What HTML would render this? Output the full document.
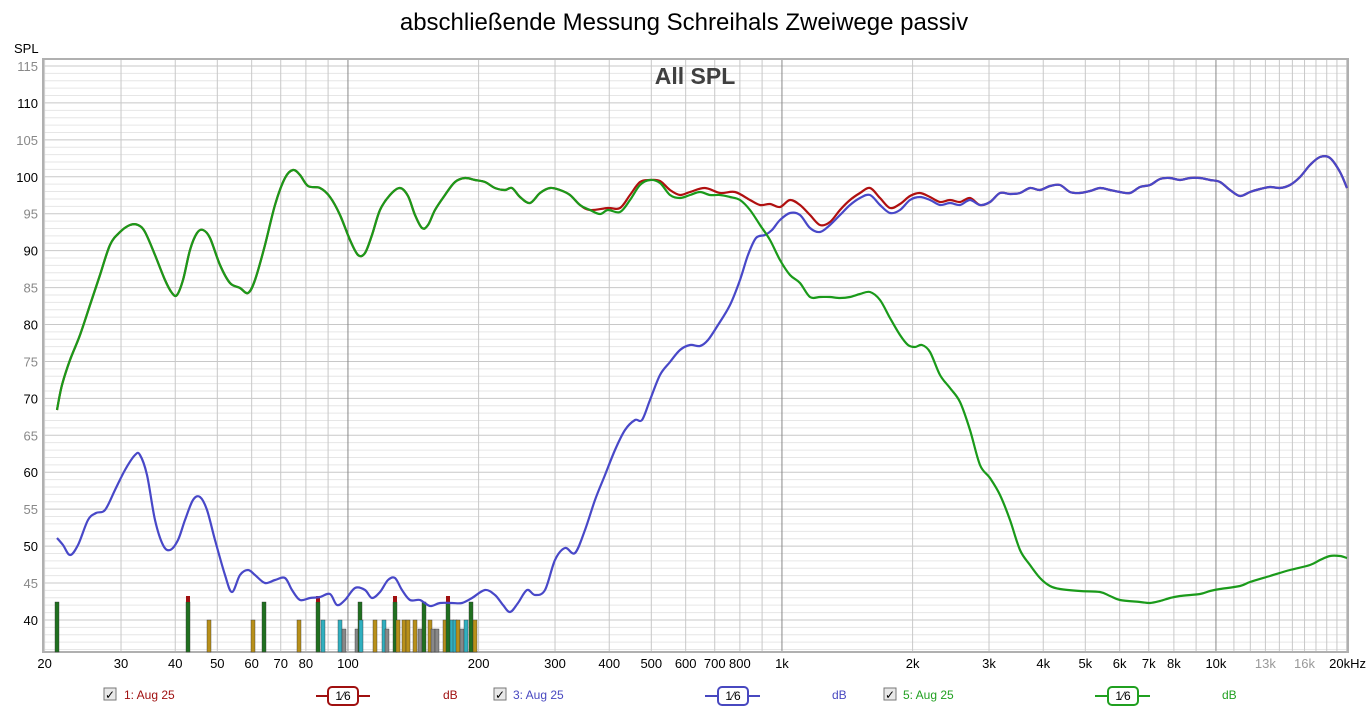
<!DOCTYPE html>
<html><head><meta charset="utf-8"><style>
body{margin:0;background:#fff;width:1369px;height:710px;overflow:hidden;font-family:"Liberation Sans",Arial,sans-serif}
svg text{font-family:"Liberation Sans",Arial,sans-serif}
</style></head><body>
<svg id="s" width="1369" height="710" xmlns="http://www.w3.org/2000/svg">
<text x="684" y="30" font-size="24" text-anchor="middle" fill="#000">abschließende Messung Schreihals Zweiwege passiv</text>
<text x="14" y="53" font-size="13" fill="#000">SPL</text>
<g id="grid"></g>
<rect x="43" y="59" width="1305" height="593" fill="none" stroke="#b0b0b0" stroke-width="2"/>
<text x="695" y="84" font-size="23" font-weight="bold" text-anchor="middle" fill="#404040">All SPL</text>
<g id="bars"></g>
<g id="curves"></g>
<g id="labels"></g>
<g font-size="12">
<rect x="104" y="688" width="12" height="12" fill="#e8e8e8" stroke="#777"/><text x="105" y="699" font-size="12">✓</text>
<text x="124" y="699" fill="#a01010">1: Aug 25</text>
<line x1="316" y1="696" x2="370" y2="696" stroke="#a01010" stroke-width="2"/>
<rect x="328" y="687" width="30" height="18" rx="4" fill="#fff" stroke="#a01010" stroke-width="2"/>
<text x="343" y="700" text-anchor="middle" fill="#000">1⁄6</text>
<text x="443" y="699" fill="#a01010">dB</text>
<rect x="494" y="688" width="12" height="12" fill="#e8e8e8" stroke="#777"/><text x="495" y="699" font-size="12">✓</text>
<text x="513" y="699" fill="#4848c0">3: Aug 25</text>
<line x1="705" y1="696" x2="760" y2="696" stroke="#4848c0" stroke-width="2"/>
<rect x="718" y="687" width="30" height="18" rx="4" fill="#fff" stroke="#4848c0" stroke-width="2"/>
<text x="733" y="700" text-anchor="middle" fill="#000">1⁄6</text>
<text x="832" y="699" fill="#4848c0">dB</text>
<rect x="884" y="688" width="12" height="12" fill="#e8e8e8" stroke="#777"/><text x="885" y="699" font-size="12">✓</text>
<text x="903" y="699" fill="#20a020">5: Aug 25</text>
<line x1="1095" y1="696" x2="1150" y2="696" stroke="#20a020" stroke-width="2"/>
<rect x="1108" y="687" width="30" height="18" rx="4" fill="#fff" stroke="#20a020" stroke-width="2"/>
<text x="1123" y="700" text-anchor="middle" fill="#000">1⁄6</text>
<text x="1222" y="699" fill="#20a020">dB</text>
</g>
</svg>
<script>
var NS="http://www.w3.org/2000/svg";
function el(p,t,a,txt){var e=document.createElementNS(NS,t);for(var k in a)e.setAttribute(k,a[k]);if(txt)e.textContent=txt;p.appendChild(e);return e;}
function X(f){return 44.6+434*Math.log10(f/20);}
function Y(d){return 66+(115-d)*7.386;}
var g=document.getElementById('grid'),L=document.getElementById('labels');
for(var d=36;d<=115;d++){var y=Y(d);el(g,'line',{x1:44,x2:1348,y1:y,y2:y,stroke:d%5==0?'#c8c8c8':'#e6e6e6','stroke-width':1});
 if(d%5==0&&d>=40)el(L,'text',{x:38,y:y+5,'font-size':13,'text-anchor':'end',fill:d%10==0?'#000':'#888'},''+d);}
var fs=[];[10,100,1000,10000].forEach(function(dec){for(var m=1;m<10;m++){var f=m*dec;if(f>=20&&f<=20000)fs.push(f);}});
for(var f=11000;f<20000;f+=1000)fs.push(f);
fs.forEach(function(f){var x=X(f);var dk=(f==100||f==1000||f==10000);el(g,'line',{x1:x,x2:x,y1:60,y2:652,stroke:dk?'#888':'#c8c8c8','stroke-width':1});});
var xl=[[20,'20'],[30,'30'],[40,'40'],[50,'50'],[60,'60'],[70,'70'],[80,'80'],[100,'100'],[200,'200'],[300,'300'],[400,'400'],[500,'500'],[600,'600'],[700,'700'],[800,'800'],[1000,'1k'],[2000,'2k'],[3000,'3k'],[4000,'4k'],[5000,'5k'],[6000,'6k'],[7000,'7k'],[8000,'8k'],[10000,'10k'],[13000,'13k',1],[16000,'16k',1]];
xl.forEach(function(a){el(L,'text',{x:X(a[0]),y:668,'font-size':13,'text-anchor':'middle',fill:a[2]?'#999':'#000'},a[1]);});
el(L,'text',{x:1366,y:668,'font-size':13,'text-anchor':'end',fill:'#000'},'20kHz');
var B=document.getElementById('bars');
var bars=[[57,'#207020',602],[188,'#207020',602,1],[209,'#b8901a',620],[253,'#b8901a',620],[264,'#207020',602],[299,'#b8901a',620],[318,'#207020',602,1],[323,'#30b0c0',620],[340,'#30b0c0',620],[344,'#888',629],[357,'#888',629],[360,'#207020',602],[361,'#30b0c0',620],[375,'#b8901a',620],[384,'#30b0c0',620],[387,'#888',629],[395,'#207020',602,1],[398,'#b8901a',620],[404,'#b8901a',620],[408,'#b8901a',620],[415,'#b8901a',620],[420,'#888',629],[424,'#207020',602],[430,'#b8901a',620],[433,'#888',629],[437,'#888',629],[445,'#b8901a',620],[448,'#207020',602,1],[452,'#30b0c0',620],[455,'#30b0c0',620],[458,'#b8901a',620],[462,'#888',629],[466,'#30b0c0',620],[471,'#207020',602],[475,'#b8901a',620]];
bars.forEach(function(b){el(B,'rect',{x:b[0]-2,y:b[2],width:4,height:652-b[2],fill:b[1],stroke:'#333','stroke-width':0.4});if(b[3])el(B,'rect',{x:b[0]-2,y:596,width:4,height:6,fill:'#a01010'});});
function path(pts,col){var d='M'+pts[0][0]+','+pts[0][1];for(var i=0;i<pts.length-1;i++){var p0=pts[i-1]||pts[i],p1=pts[i],p2=pts[i+1],p3=pts[i+2]||p2;
 d+=' C'+(p1[0]+(p2[0]-p0[0])/6).toFixed(1)+','+(p1[1]+(p2[1]-p0[1])/6).toFixed(1)+' '+(p2[0]-(p3[0]-p1[0])/6).toFixed(1)+','+(p2[1]-(p3[1]-p1[1])/6).toFixed(1)+' '+p2[0]+','+p2[1];}
 el(document.getElementById('curves'),'path',{d:d,fill:'none',stroke:col,'stroke-width':2.2,'stroke-linejoin':'round'});}
var green=[[57,410],[62,385],[70,360],[80,335],[90,305],[100,275],[110,245],[120,232],[130,225],[138,225],[145,232],[155,255],[165,280],[172,293],[177,295],[183,280],[190,250],[197,233],[203,230],[210,238],[220,265],[230,283],[240,288],[248,293],[255,280],[265,245],[275,205],[285,178],[293,170],[300,175],[308,186],[320,188],[330,197],[340,215],[350,240],[358,255],[365,253],[372,235],[380,210],[390,195],[400,188],[408,196],[415,215],[422,228],[428,225],[435,210],[445,195],[455,182],[465,178],[475,180],[485,182],[495,188],[505,190],[512,188],[520,197],[530,203],[540,193],[550,188],[560,190],[570,195],[580,205],[590,210],[600,214],[608,210],[620,212],[630,200],[640,185],[650,180],[660,183],[670,195],[680,198],[690,195],[700,192],[710,195],[720,195],[730,197],[740,200],[750,210],[760,225],[770,240],[780,260],[790,275],[800,283],[810,297],[820,297],[830,297],[840,298],[850,297],[860,294],[870,292],[880,300],[890,318],[900,335],[908,345],[915,347],[922,345],[930,352],[940,375],[950,388],[960,402],[970,430],[980,465],[990,478],[1000,495],[1010,520],[1020,550],[1030,565],[1040,578],[1050,586],[1060,589],[1080,591],[1100,592],[1110,596],[1120,600],[1140,602],[1150,603],[1160,601],[1170,598],[1180,596],[1200,594],[1210,591],[1220,589],[1240,586],[1250,582],[1270,576],[1290,570],[1310,565],[1320,560],[1330,556],[1340,556],[1347,558]];
var blueHigh=[[810,228],[820,232],[830,225],[840,215],[850,205],[860,198],[870,195],[880,205],[890,213],[900,210],[910,200],[920,197],[930,200],[940,205],[950,203],[960,205],[970,200],[980,205],[990,202],[1000,193],[1010,194],[1020,193],[1030,188],[1040,190],[1050,186],[1060,185],[1070,192],[1080,193],[1090,191],[1100,188],[1110,190],[1120,192],[1130,193],[1140,187],[1150,185],[1160,179],[1170,178],[1180,180],[1190,178],[1200,178],[1210,180],[1220,182],[1230,190],[1240,196],[1250,192],[1260,189],[1270,187],[1280,188],[1290,185],[1300,177],[1310,165],[1320,157],[1330,158],[1340,172],[1347,188]];
var red=green.filter(function(p){return p[0]<600;}).concat([[608,208],[620,208],[630,195],[640,182],[650,180],[660,181],[670,190],[680,195],[690,192],[705,188],[720,193],[735,192],[750,200],[760,205],[770,204],[780,207],[790,200],[800,205],[810,215],[820,225],[830,222],[840,210],[850,200],[860,193],[870,188],[880,198],[890,208],[900,204],[910,196],[920,193],[930,197],[940,202],[950,200],[960,202],[970,198]]).concat(blueHigh.filter(function(p){return p[0]>=980;}));
var blue=[[57,538],[63,545],[70,555],[78,545],[88,520],[96,513],[105,510],[115,490],[125,470],[135,455],[140,455],[147,475],[155,520],[163,545],[170,550],[178,540],[185,520],[193,500],[200,497],[207,510],[215,540],[225,575],[232,592],[240,575],[248,570],[255,575],[265,583],[275,580],[285,578],[292,590],[300,600],[310,598],[320,597],[330,594],[337,605],[345,600],[355,588],[365,590],[372,598],[380,592],[388,580],[395,578],[402,590],[410,600],[420,600],[430,606],[440,603],[452,603],[462,603],[472,598],[485,590],[495,595],[503,605],[510,612],[518,603],[527,590],[535,595],[545,590],[555,560],[565,548],[575,553],[585,530],[595,500],[605,475],[615,450],[625,430],[635,420],[642,420],[650,400],[660,375],[670,362],[680,350],[690,345],[700,346],[708,340],[718,325],[730,305],[740,280],[748,255],[756,238],[765,235],[772,230],[780,220],[790,213],[800,215]].concat(blueHigh);
path(red,'#b01010');path(blue,'#4848c8');path(green,'#1a9a1a');
</script>
</body></html>
